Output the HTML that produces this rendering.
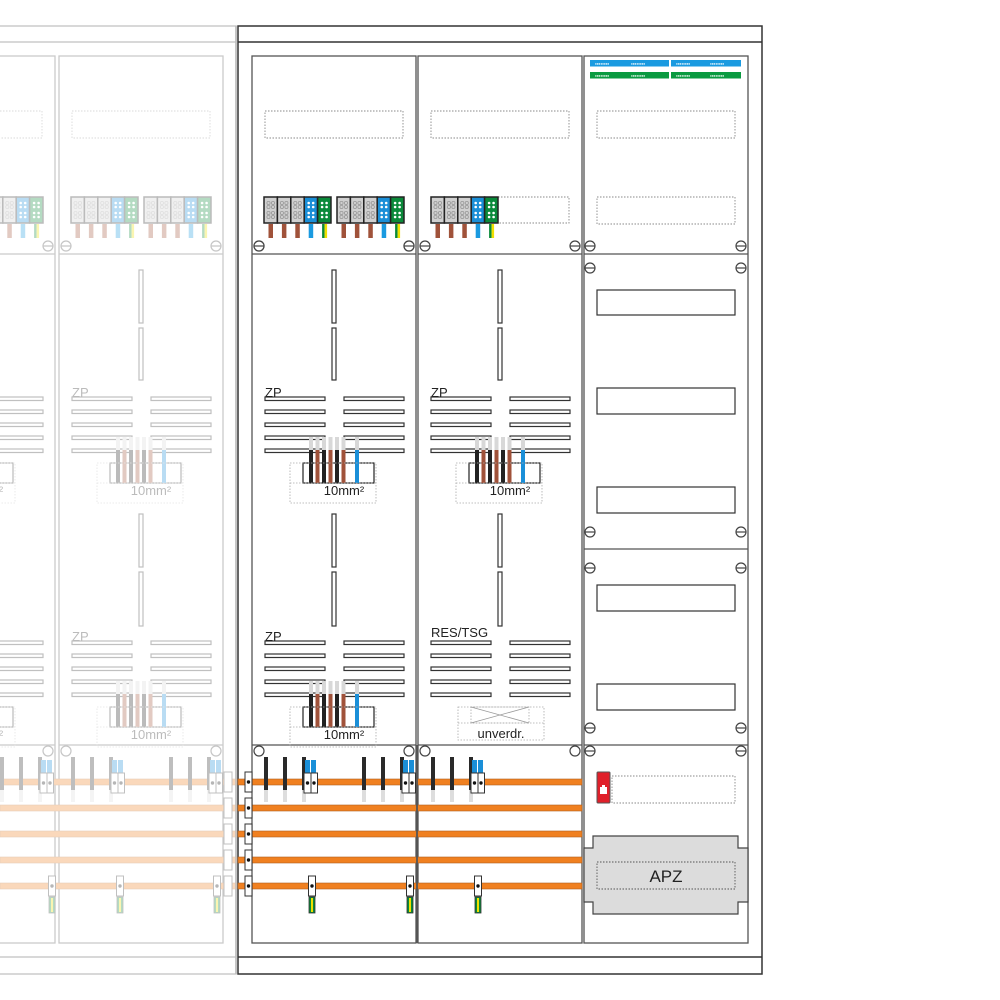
<!DOCTYPE html>
<html><head><meta charset="utf-8"><style>html,body{margin:0;padding:0;background:#fff}svg{display:block}</style></head><body>
<svg width="1000" height="1000" viewBox="0 0 1000 1000" xmlns="http://www.w3.org/2000/svg" font-family="Liberation Sans, sans-serif">
<defs>
<g id="tcell"><rect x="0" y="0" width="13.4" height="26" fill="#d0d0d0" stroke="#222" stroke-width="1.5"/><g fill="none" stroke="#999" stroke-width="0.8"><circle cx="4.5" cy="6" r="1.6"/><circle cx="9" cy="6" r="1.6"/><circle cx="4.5" cy="10" r="1.6"/><circle cx="9" cy="10" r="1.6"/><circle cx="4.5" cy="16" r="1.6"/><circle cx="9" cy="16" r="1.6"/><circle cx="4.5" cy="20" r="1.6"/><circle cx="9" cy="20" r="1.6"/></g></g>
<g id="ccell"><g fill="#fff"><circle cx="4.5" cy="6" r="1.3"/><circle cx="9" cy="6" r="1.3"/><circle cx="4.5" cy="10" r="1.3"/><circle cx="9" cy="10" r="1.3"/><circle cx="4.5" cy="16" r="1.3"/><circle cx="9" cy="16" r="1.3"/><circle cx="4.5" cy="20" r="1.3"/><circle cx="9" cy="20" r="1.3"/></g></g>
<g id="tblock">
<use href="#tcell" x="0"/><use href="#tcell" x="13.4"/><use href="#tcell" x="26.8"/>
<rect x="40.2" y="0" width="13.4" height="26" fill="#1a8fd8" stroke="#222" stroke-width="1.5"/><use href="#ccell" x="40.2"/>
<rect x="53.6" y="0" width="13.4" height="26" fill="#0a8a3a" stroke="#222" stroke-width="1.5"/><use href="#ccell" x="53.6"/>
<rect x="4.5" y="27" width="4.5" height="14" fill="#a0523a"/><rect x="17.9" y="27" width="4.5" height="14" fill="#a0523a"/><rect x="31.3" y="27" width="4.5" height="14" fill="#a0523a"/>
<rect x="44.7" y="27" width="4.5" height="14" fill="#1a9ae0"/><rect x="58.1" y="27" width="2.5" height="14" fill="#0a8a3a"/><rect x="60.6" y="27" width="2.5" height="14" fill="#f0e000"/>
</g>
<g id="screw"><circle r="5" fill="#fff" stroke="#444" stroke-width="1.2"/><line x1="-5" y1="0" x2="5" y2="0" stroke="#444" stroke-width="1.2"/></g>
<g id="bars" fill="#fff" stroke="#333" stroke-width="1.2">
<rect x="0" y="0" width="60" height="3.5"/><rect x="79" y="0" width="60" height="3.5"/>
<rect x="0" y="13" width="60" height="3.5"/><rect x="79" y="13" width="60" height="3.5"/>
<rect x="0" y="26" width="60" height="3.5"/><rect x="79" y="26" width="60" height="3.5"/>
<rect x="0" y="39" width="60" height="3.5"/><rect x="79" y="39" width="60" height="3.5"/>
<rect x="0" y="52" width="60" height="3.5"/><rect x="79" y="52" width="60" height="3.5"/>
</g>
<g id="wires">
<rect x="0" y="0" width="4" height="13" fill="#d8d8d8"/><rect x="6.5" y="0" width="4" height="13" fill="#d8d8d8"/><rect x="13" y="0" width="4" height="13" fill="#d8d8d8"/><rect x="19.5" y="0" width="4" height="13" fill="#d8d8d8"/><rect x="26" y="0" width="4" height="13" fill="#d8d8d8"/><rect x="32.5" y="0" width="4" height="13" fill="#d8d8d8"/><rect x="46" y="0" width="4" height="13" fill="#d8d8d8"/>
<rect x="-6" y="26" width="71" height="20" fill="#fff" stroke="#222" stroke-width="1.2"/>
<rect x="0" y="13" width="4" height="33" fill="#222"/><rect x="6.5" y="13" width="4" height="33" fill="#a0523a"/><rect x="13" y="13" width="4" height="33" fill="#222"/><rect x="19.5" y="13" width="4" height="33" fill="#a0523a"/><rect x="26" y="13" width="4" height="33" fill="#222"/><rect x="32.5" y="13" width="4" height="33" fill="#a0523a"/><rect x="46" y="13" width="4" height="33" fill="#1a8fd8"/>
<rect x="-19" y="26" width="86" height="40" fill="none" stroke="#aaa" stroke-width="0.8" stroke-dasharray="1.5,1.5"/>
<line x1="-19" y1="46" x2="67" y2="46" stroke="#aaa" stroke-width="0.8" stroke-dasharray="1.5,1.5"/>
<text x="35" y="58" font-size="13" text-anchor="middle" fill="#222">10mm²</text>
</g>
<g id="colbase">
<rect x="0" y="0" width="164" height="887" fill="#fff" stroke="#555" stroke-width="1.3"/>
<line x1="0" y1="198" x2="164" y2="198" stroke="#555" stroke-width="1.3"/>
<line x1="0" y1="689" x2="164" y2="689" stroke="#555" stroke-width="1.3"/>
<rect x="13" y="55" width="138" height="27" fill="none" stroke="#888" stroke-width="0.9" stroke-dasharray="1.5,1.5"/>
<use href="#screw" x="7" y="190"/><use href="#screw" x="157" y="190"/>
<g fill="#fff" stroke="#333" stroke-width="1.2"><rect x="80" y="214" width="4" height="53"/><rect x="80" y="272" width="4" height="52"/><rect x="80" y="458" width="4" height="53"/><rect x="80" y="516" width="4" height="54"/></g>
<use href="#bars" x="13" y="341"/><use href="#bars" x="13" y="585"/>
<circle cx="7" cy="695" r="5" fill="#fff" stroke="#444" stroke-width="1.2"/><circle cx="157" cy="695" r="5" fill="#fff" stroke="#444" stroke-width="1.2"/>
</g>
<g id="stub3"><rect x="0" y="0" width="4" height="33" fill="#2a2a2a"/><rect x="0" y="33" width="4" height="12" fill="#ddd"/><rect x="19" y="0" width="4" height="33" fill="#2a2a2a"/><rect x="19" y="33" width="4" height="12" fill="#ddd"/><rect x="38" y="0" width="4" height="33" fill="#2a2a2a"/><rect x="38" y="33" width="4" height="12" fill="#ddd"/>
<rect x="41" y="3" width="5" height="15" fill="#1a8fd8"/><rect x="47" y="3" width="5" height="15" fill="#1a8fd8"/>
<rect x="40" y="16" width="7" height="20" fill="#fff" stroke="#333" stroke-width="1"/><rect x="47" y="16" width="6.5" height="20" fill="#fff" stroke="#333" stroke-width="1"/>
<circle cx="43.5" cy="26" r="1.7" fill="#111"/><circle cx="50" cy="26" r="1.7" fill="#111"/></g>
<g id="pe"><rect x="-3.5" y="-10" width="7" height="20" fill="#fff" stroke="#333" stroke-width="1"/><circle cx="0" cy="0" r="1.7" fill="#111"/><rect x="-3" y="11" width="6" height="16" fill="#0a8a3a" stroke="#333" stroke-width="0.8"/><rect x="-1" y="12" width="2" height="14" fill="#f0e000"/></g>
<g id="busbars" fill="#f08020" stroke="#b06020" stroke-width="0.6"><rect x="0" y="779" width="1" height="6"/></g>
<g id="colA">
<use href="#colbase"/>
<use href="#tblock" x="12" y="141"/><use href="#tblock" x="85" y="141"/>
<text x="13" y="341" font-size="13" fill="#222">ZP</text><text x="13" y="585" font-size="13" fill="#222">ZP</text>
<use href="#wires" x="57" y="381"/><use href="#wires" x="57" y="625"/>
</g>
</defs>

<!-- ghost left part -->
<g opacity="0.3">
<rect x="-10" y="26" width="246" height="948" fill="#fff" stroke="#555" stroke-width="1.5"/>
<line x1="0" y1="42" x2="236" y2="42" stroke="#555" stroke-width="1.5"/>
<line x1="0" y1="957" x2="236" y2="957" stroke="#555" stroke-width="1.5"/>
<use href="#colA" x="-109" y="56"/><use href="#colA" x="59" y="56"/>
<g fill="#f08020" stroke="#b06020" stroke-width="0.6">
<rect x="0" y="779" width="238" height="6"/><rect x="0" y="805" width="238" height="6"/><rect x="0" y="831" width="238" height="6"/><rect x="0" y="857" width="238" height="6"/><rect x="0" y="883" width="238" height="6"/></g>
<use href="#stub3" x="0" y="757"/><use href="#stub3" x="71" y="757"/><use href="#stub3" x="169" y="757"/>
<use href="#pe" x="52" y="886"/><use href="#pe" x="120" y="886"/><use href="#pe" x="217" y="886"/>
<g fill="#fff" stroke="#333" stroke-width="1"><rect x="224" y="772" width="8" height="20"/><rect x="224" y="798" width="8" height="20"/><rect x="224" y="824" width="8" height="20"/><rect x="224" y="850" width="8" height="20"/><rect x="224" y="876" width="8" height="20"/></g>
</g>

<!-- main frame -->
<rect x="238" y="26" width="524" height="948" fill="#fff" stroke="#333" stroke-width="1.5"/>
<line x1="238" y1="42" x2="762" y2="42" stroke="#333" stroke-width="1.5"/>
<line x1="238" y1="957" x2="762" y2="957" stroke="#333" stroke-width="1.5"/>
<line x1="236" y1="26" x2="236" y2="974" stroke="#bbb" stroke-width="1.5"/>

<!-- column 1 -->
<use href="#colA" x="252" y="56"/>

<!-- column 2 -->
<g transform="translate(418,56)">
<use href="#colbase"/>
<rect x="80" y="141" width="71" height="26" fill="none" stroke="#888" stroke-width="0.9" stroke-dasharray="1.5,1.5"/>
<use href="#tblock" x="13" y="141"/>
<text x="13" y="341" font-size="13" fill="#222">ZP</text>
<text x="13" y="581" font-size="13" fill="#222">RES/TSG</text>
<use href="#wires" x="57" y="381"/>
<g fill="none" stroke="#aaa" stroke-width="0.8" stroke-dasharray="1.5,1.5"><rect x="40" y="651" width="86" height="33"/><line x1="40" y1="667" x2="126" y2="667"/><rect x="53" y="651" width="58" height="16"/></g>
<path d="M53 651 L111 667 M111 651 L53 667" stroke="#999" stroke-width="0.8" fill="none"/>
<text x="83" y="682" font-size="13" text-anchor="middle" fill="#222">unverdr.</text>
</g>

<!-- bus bars main -->
<g fill="#f08020" stroke="#b06020" stroke-width="0.6">
<rect x="238" y="779" width="344" height="6"/><rect x="238" y="805" width="344" height="6"/><rect x="238" y="831" width="344" height="6"/><rect x="238" y="857" width="344" height="6"/><rect x="238" y="883" width="344" height="6"/></g>
<line x1="417" y1="745" x2="417" y2="943" stroke="#555" stroke-width="1.8"/>
<use href="#stub3" x="264" y="757"/><use href="#stub3" x="362" y="757"/><use href="#stub3" x="431" y="757"/>
<use href="#pe" x="312" y="886"/><use href="#pe" x="410" y="886"/><use href="#pe" x="478" y="886"/>
<g fill="#fff" stroke="#333" stroke-width="1"><rect x="245" y="772" width="7" height="20"/><rect x="245" y="798" width="7" height="20"/><rect x="245" y="824" width="7" height="20"/><rect x="245" y="850" width="7" height="20"/><rect x="245" y="876" width="7" height="20"/></g>
<g fill="#111"><circle cx="248.5" cy="782" r="1.7"/><circle cx="248.5" cy="808" r="1.7"/><circle cx="248.5" cy="834" r="1.7"/><circle cx="248.5" cy="860" r="1.7"/><circle cx="248.5" cy="886" r="1.7"/></g>

<!-- column 3 -->
<g stroke="#555" stroke-width="1.3" fill="none">
<rect x="584" y="56" width="164" height="887" fill="#fff"/>
<line x1="584" y1="254" x2="748" y2="254"/><line x1="584" y1="549" x2="748" y2="549"/><line x1="584" y1="745" x2="748" y2="745"/>
</g>
<rect x="590" y="60" width="79" height="6.5" fill="#1a9ae0"/><rect x="671" y="60" width="70" height="6.5" fill="#1a9ae0"/>
<rect x="590" y="72" width="79" height="6.5" fill="#0a9a40"/><rect x="671" y="72" width="70" height="6.5" fill="#0a9a40"/>
<g fill="#fff" font-size="5"><text x="595" y="65.5">▪▪▪▪▪▪▪▪</text><text x="631" y="65.5">▪▪▪▪▪▪▪▪</text><text x="676" y="65.5">▪▪▪▪▪▪▪▪</text><text x="710" y="65.5">▪▪▪▪▪▪▪▪</text>
<text x="595" y="77.5">▪▪▪▪▪▪▪▪</text><text x="631" y="77.5">▪▪▪▪▪▪▪▪</text><text x="676" y="77.5">▪▪▪▪▪▪▪▪</text><text x="710" y="77.5">▪▪▪▪▪▪▪▪</text></g>
<g fill="none" stroke="#888" stroke-width="0.9" stroke-dasharray="1.5,1.5">
<rect x="597" y="111" width="138" height="27"/><rect x="597" y="197" width="138" height="27"/><rect x="612" y="776" width="123" height="27"/></g>
<use href="#screw" x="590" y="246"/><use href="#screw" x="741" y="246"/>
<use href="#screw" x="590" y="268"/><use href="#screw" x="741" y="268"/><use href="#screw" x="590" y="532"/><use href="#screw" x="741" y="532"/>
<use href="#screw" x="590" y="568"/><use href="#screw" x="741" y="568"/><use href="#screw" x="590" y="728"/><use href="#screw" x="741" y="728"/>
<use href="#screw" x="590" y="751"/><use href="#screw" x="741" y="751"/>
<use href="#screw" x="259" y="246"/><use href="#screw" x="409" y="246"/>
<g fill="#fff" stroke="#333" stroke-width="1.2"><rect x="597" y="290" width="138" height="25"/><rect x="597" y="388" width="138" height="26"/><rect x="597" y="487" width="138" height="26"/><rect x="597" y="585" width="138" height="26"/><rect x="597" y="684" width="138" height="26"/></g>
<rect x="597" y="772" width="13" height="31" fill="#e0202a" stroke="#555" stroke-width="1" rx="1"/>
<rect x="600" y="787" width="7" height="7" fill="#fff"/><rect x="602" y="785" width="3" height="3" fill="#fff"/>
<path d="M593 836 H738 V848 H748 V902 H738 V914 H593 V902 H584 V848 H593 Z" fill="#dcdcdc" stroke="#444" stroke-width="1.2"/>
<rect x="597" y="862" width="138" height="27" fill="none" stroke="#555" stroke-width="0.9" stroke-dasharray="1.5,1.5"/>
<text x="666" y="882" font-size="17" text-anchor="middle" fill="#222">APZ</text>
</svg>
</body></html>
